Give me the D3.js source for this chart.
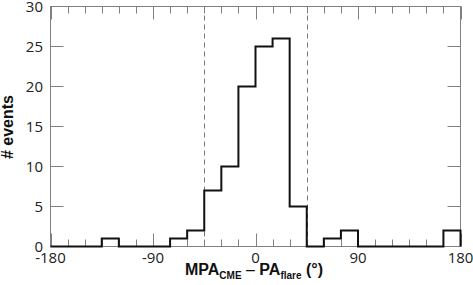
<!DOCTYPE html>
<html>
<head>
<meta charset="utf-8">
<script src="https://cdn.jsdelivr.net/npm/d3@7"></script>
<style>
  body { margin: 0; background: #fff; }
  .tickLabel { font-family: "Open Sans", sans-serif; font-size: 15px; fill: #222; }
  .axisTitle { font-family: "Liberation Sans", Arial, sans-serif; font-weight: bold; fill: #111; }
</style>
</head>
<body>
<script>
(function(){

// Histogram bin edges (left edge of each 15 degree bin) and counts
var binStarts = [-180, -165, -150, -135, -120, -105, -90, -75, -60, -45, -30, -15,
                 0, 15, 30, 45, 60, 75, 90, 105, 120, 135, 150, 165];
var counts    = [0, 0, 0, 1, 0, 0, 0, 1, 2, 7, 10, 20,
                 25, 26, 5, 0, 1, 2, 0, 0, 0, 0, 0, 2];
var binWidth = 15;
var xTicks = [-180, -90, 0, 90, 180];
var yTicks = [0, 5, 10, 15, 20, 25, 30];
var cutLines = [-45, 45];

window.onload = draw;

function draw(){
    var width = 473, height = 285;
    var left = 50.5, right = 460.5, top = 6.5, bottom = 246.5;

    var svg = d3.select("body").append("svg")
        .attr("width", width)
        .attr("height", height);

    var x = d3.scaleLinear().domain([-180, 180]).range([left, right]);
    var y = d3.scaleLinear().domain([0, 30]).range([bottom, top]);

    var frameColor = "#808080";

    // dashed cut lines
    svg.selectAll(".cut")
        .data(cutLines)
        .enter()
        .append("line")
        .attr("class", "cut")
        .attr("x1", d => Math.round(x(d)) + 0.5)
        .attr("x2", d => Math.round(x(d)) + 0.5)
        .attr("y1", y(30))
        .attr("y2", y(0))
        .style("stroke", "#777")
        .style("stroke-width", 1)
        .style("stroke-dasharray", "5,4");

    // minor/major x ticks, bottom and top, pointing inward
    var xMinor = d3.range(-180, 181, binWidth);
    function tickLen(d){ return d % 90 === 0 ? 13 : 7; }
    svg.selectAll(".xtickB")
        .data(xMinor)
        .enter()
        .append("line")
        .attr("x1", d => Math.round(x(d)) + 0.5)
        .attr("x2", d => Math.round(x(d)) + 0.5)
        .attr("y1", y(0))
        .attr("y2", d => y(0) - tickLen(d))
        .style("stroke", frameColor);
    svg.selectAll(".xtickT")
        .data(xMinor)
        .enter()
        .append("line")
        .attr("x1", d => Math.round(x(d)) + 0.5)
        .attr("x2", d => Math.round(x(d)) + 0.5)
        .attr("y1", y(30))
        .attr("y2", d => y(30) + tickLen(d))
        .style("stroke", frameColor);

    // y ticks left and right
    svg.selectAll(".ytickL")
        .data(yTicks)
        .enter()
        .append("line")
        .attr("x1", left)
        .attr("x2", left + 13)
        .attr("y1", d => y(d))
        .attr("y2", d => y(d))
        .style("stroke", frameColor);
    svg.selectAll(".ytickR")
        .data(yTicks)
        .enter()
        .append("line")
        .attr("x1", right)
        .attr("x2", right - 13)
        .attr("y1", d => y(d))
        .attr("y2", d => y(d))
        .style("stroke", frameColor);

    // frame
    svg.append("rect")
        .attr("x", left)
        .attr("y", top)
        .attr("width", right - left)
        .attr("height", bottom - top)
        .style("fill", "none")
        .style("stroke", frameColor)
        .style("stroke-width", 1);

    // histogram outline as a step line
    var pts = binStarts.map((b, i) => [b, counts[i]]);
    pts.push([180, counts[counts.length - 1]]);
    pts.push([180, 0]);
    var line = d3.line()
        .x(d => x(d[0]))
        .y(d => y(d[1]))
        .curve(d3.curveStepAfter);
    svg.append("path")
        .attr("d", line(pts))
        .style("fill", "none")
        .style("stroke", "#111")
        .style("stroke-width", 2)
        .style("stroke-linejoin", "miter");

    // tick labels
    svg.selectAll(".xlab")
        .data(xTicks)
        .enter()
        .append("text")
        .attr("class", "tickLabel")
        .attr("x", d => x(d))
        .attr("y", 263)
        .attr("text-anchor", "middle")
        .text(d => d);
    svg.selectAll(".ylab")
        .data(yTicks)
        .enter()
        .append("text")
        .attr("class", "tickLabel")
        .attr("x", 43)
        .attr("y", d => y(d) + 5.5)
        .attr("text-anchor", "end")
        .text(d => d);

    // axis titles
    var xt = svg.append("text")
        .attr("class", "axisTitle")
        .attr("x", 254)
        .attr("y", 275)
        .attr("text-anchor", "middle")
        .style("font-size", "16px");
    xt.append("tspan").text("MPA");
    xt.append("tspan").attr("dy", 4).style("font-size", "10px").text("CME");
    xt.append("tspan").attr("dy", -4).style("font-weight", "normal").text(" \u2013 ");
    xt.append("tspan").text("PA");
    xt.append("tspan").attr("dy", 4).style("font-size", "10px").text("flare");
    xt.append("tspan").attr("dy", -4).text(" (\u00B0)");

    svg.append("text")
        .attr("class", "axisTitle")
        .attr("transform", "translate(13,127) rotate(-90)")
        .attr("text-anchor", "middle")
        .style("font-size", "16px")
        .text("# events");
}

})();
</script>
</body>
</html>
